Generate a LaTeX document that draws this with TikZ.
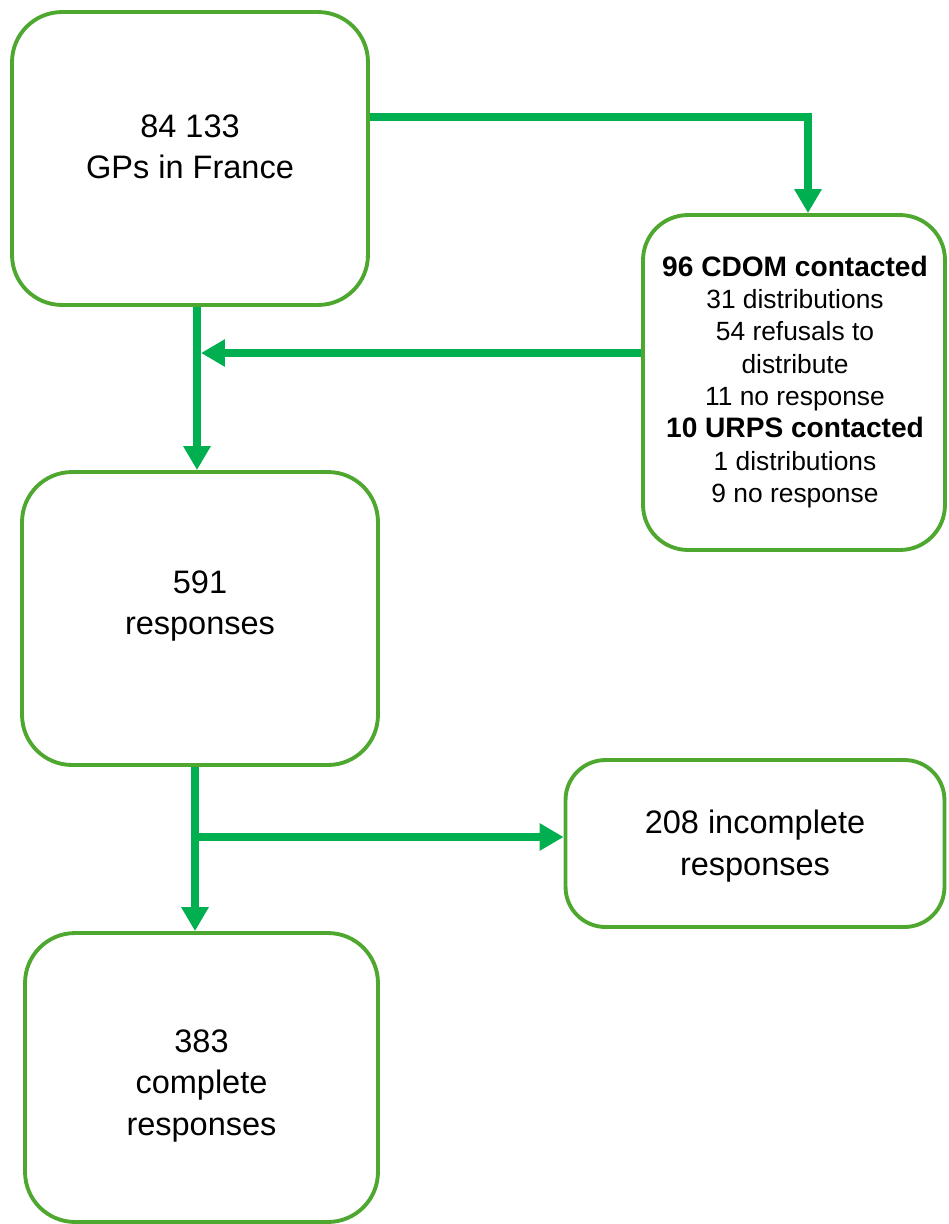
\documentclass[tikz,border=0pt]{standalone}
\usepackage{fontspec}
\setmainfont{Liberation Sans}
\usetikzlibrary{arrows.meta}
\definecolor{boxgreen}{HTML}{4EA72E}
\definecolor{arrgreen}{HTML}{00B050}
\newcommand{\hd}[1]{{\fontsize{16}{18.4}\selectfont\bfseries #1}}
\tikzset{
  box/.style={draw=boxgreen, line width=2.2pt, fill=white, inner sep=0pt},
  big/.style={font=\fontsize{18.5}{23.5}\selectfont, align=center, inner sep=0pt},
  small/.style={font=\fontsize{15}{18.4}\selectfont, align=center, inner sep=0pt},
  arr/.style={draw=arrgreen, line width=4.5pt, -{Triangle[width=0.52cm,length=0.48cm]}}
}
\begin{document}
\begin{tikzpicture}[x=0.02cm,y=-0.02cm]
\useasboundingbox (0,0) rectangle (948,1224);
% boxes
\node[box,rounded corners=1cm,minimum width=7.12cm,minimum height=5.86cm] (gps) at (190,158.5) {};
\node[box,rounded corners=0.9cm,minimum width=6.04cm,minimum height=6.7cm] (cdom) at (794,382.5) {};
\node[box,rounded corners=1cm,minimum width=7.12cm,minimum height=5.86cm] (resp) at (200,618.5) {};
\node[box,rounded corners=0.8cm,minimum width=7.58cm,minimum height=3.34cm] (inc) at (755,843.5) {};
\node[box,rounded corners=1cm,minimum width=7.06cm,minimum height=5.78cm] (comp) at (201.5,1077.5) {};
% texts
\node[big] (gpsT) at (190,147) {84 133\\GPs in France};
\node[small] (cdomT) at (795,382) {\hd{96 CDOM contacted}\\31 distributions\\54 refusals to\\distribute\\11 no response\\\hd{10 URPS contacted}\\1 distributions\\9 no response};
\node[big] (respT) at (200,606) {591\\responses};
\node[big] (incT) at (755,846) {208 incomplete\\responses};
\node[big] (compT) at (201.5,1086) {383\\complete\\responses};
% connectors
\coordinate (h1) at (0,117);
\coordinate (h2) at (0,353);
\coordinate (h3) at (0,837);
\coordinate (v1) at (197,0);
\coordinate (v2) at (195,0);
\coordinate (v3) at (808,0);
\coordinate (tipA) at (201,353);
\draw[arr] (gps.east |- h1) -| (v3 |- cdom.north);
\draw[arr] (v1 |- gps.south) -- (v1 |- resp.north);
\draw[arr] (cdom.west |- h2) -- (tipA);
\draw[arr] (v2 |- resp.south) -- (v2 |- comp.north);
\draw[arr] (v2 |- h3) -- (inc.west |- h3);
\end{tikzpicture}
\end{document}
